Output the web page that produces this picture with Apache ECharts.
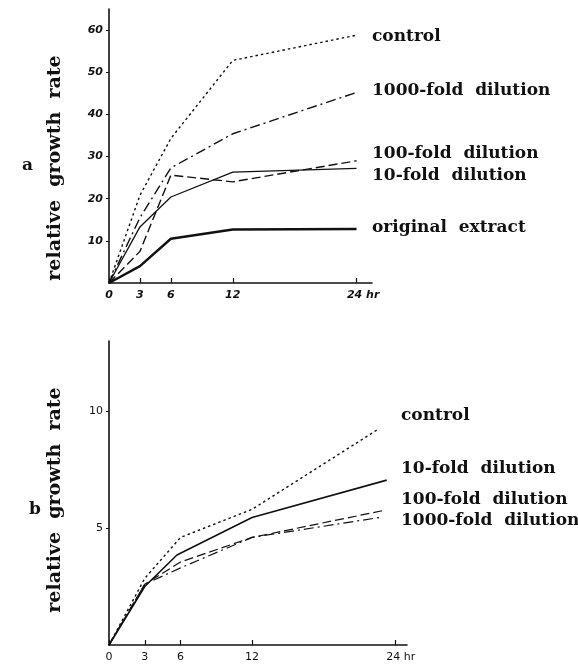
<!DOCTYPE html>
<html>
<head>
<meta charset="utf-8">
<script src="https://cdn.jsdelivr.net/npm/echarts@6/dist/echarts.min.js"></script>
<style>html,body{margin:0;padding:0;background:#fff}#c{width:578px;height:666px}</style>
</head>
<body>
<div id="c"></div>
<script>
// ---- Panel a data ----
const aTimes = [0, 3, 6, 12, 24];
const aControl = [0, 20.8, 34.3, 52.8, 58.8];
const a1000 = [0, 15.5, 27.3, 35.4, 45.2];
const a100 = [0, 7.5, 25.6, 24.0, 29.0];
const a10 = [0, 13.3, 20.4, 26.3, 27.2];
const aOriginal = [0, 4.0, 10.5, 12.7, 12.8];
const aNames = ['control', '1000-fold  dilution', '100-fold  dilution', '10-fold  dilution', 'original  extract'];
const aYTicks = [10, 20, 30, 40, 50, 60];

// ---- Panel b data ----
const bControlT = [0, 3, 6, 12, 22.5];
const bControl = [0, 2.85, 4.6, 5.8, 9.2];
const b10T = [0, 3, 5.7, 12, 23.3];
const b10 = [0, 2.5, 3.85, 5.45, 7.05];
const b100T = [0, 3, 6, 12, 23];
const b100 = [0, 2.6, 3.55, 4.6, 5.75];
const b1000T = [0, 3, 6, 12, 22.9];
const b1000 = [0, 2.6, 3.3, 4.6, 5.47];
const bNames = ['control', '10-fold  dilution', '100-fold  dilution', '1000-fold  dilution'];
const bYTicks = [5, 10];

const xTicks = [0, 3, 6, 12, 24];
const yName = 'relative  growth  rate';

const pair = (t, v) => t.map((x, i) => [x, v[i]]);

const chart = echarts.init(document.getElementById('c'), null, {renderer: 'canvas'});
const serif = 'DejaVu Serif';
const labFont = {fontFamily: serif, fontWeight: 'bold', fontSize: 17, fill: '#111'};
const nameFont = {fontFamily: serif, fontWeight: 'bold', fontSize: 19, fill: '#111'};

function xAxisCfg(gi, max, style) {
  return {
    type: 'value', gridIndex: gi, min: 0, max: max,
    axisLine: {show: true, lineStyle: {color: '#111', width: 1.6}},
    axisTick: {show: true, inside: true, length: 5, customValues: xTicks, lineStyle: {color: '#111', width: 1.2}},
    splitLine: {show: false},
    axisLabel: Object.assign({
      customValues: xTicks, margin: 7, color: '#111',
      formatter: v => v === 24 ? '{h|hr}24 hr' : String(v),
      rich: {h: {color: 'rgba(0,0,0,0)', fontSize: style.fontSize, fontWeight: style.fontWeight, fontStyle: style.fontStyle, fontFamily: style.fontFamily}}
    }, style)
  };
}
function yAxisCfg(gi, max, ticks, style) {
  return {
    type: 'value', gridIndex: gi, min: 0, max: max,
    axisLine: {show: true, lineStyle: {color: '#111', width: 1.6}},
    axisTick: {show: true, inside: false, length: 3, customValues: ticks, lineStyle: {color: '#111'}},
    splitLine: {show: false},
    axisLabel: Object.assign({customValues: ticks, margin: 6, color: '#111'}, style)
  };
}
const aStyle = {fontFamily: 'DejaVu Sans', fontWeight: 'bold', fontStyle: 'italic', fontSize: 11};
const bStyle = {fontFamily: 'DejaVu Sans', fontWeight: 'normal', fontStyle: 'normal', fontSize: 11};

function line(name, data, xi, yi, type, width) {
  return {
    name: name, type: 'line', xAxisIndex: xi, yAxisIndex: yi, data: data,
    showSymbol: false, symbol: 'none', animation: false,
    lineStyle: {color: '#111', width: width, type: type, cap: 'butt'}
  };
}
const dotted = [2.5, 3];
const dashed = [9, 4];
const dashDot = [10, 4, 2, 4];

function vText(text, x, y) {
  return {type: 'text', x: x, y: y, rotation: Math.PI / 2,
    style: Object.assign({text: text, align: 'center', verticalAlign: 'middle'}, nameFont)};
}

chart.setOption({
  backgroundColor: '#fff',
  animation: false,
  grid: [
    {left: 109, top: 9, width: 263, height: 274},
    {left: 109, top: 341, width: 298, height: 304}
  ],
  xAxis: [xAxisCfg(0, 25.5, aStyle), xAxisCfg(1, 25, bStyle)],
  yAxis: [yAxisCfg(0, 65, aYTicks, aStyle), yAxisCfg(1, 13, bYTicks, bStyle)],
  series: [
    line(aNames[0], pair(aTimes, aControl), 0, 0, dotted, 1.4),
    line(aNames[1], pair(aTimes, a1000), 0, 0, dashDot, 1.4),
    line(aNames[2], pair(aTimes, a100), 0, 0, dashed, 1.4),
    line(aNames[3], pair(aTimes, a10), 0, 0, 'solid', 1.3),
    line(aNames[4], pair(aTimes, aOriginal), 0, 0, 'solid', 2.4),
    line(bNames[0], pair(bControlT, bControl), 1, 1, dotted, 1.4),
    line(bNames[1], pair(b10T, b10), 1, 1, 'solid', 1.6),
    line(bNames[2], pair(b100T, b100), 1, 1, dashed, 1.2),
    line(bNames[3], pair(b1000T, b1000), 1, 1, dashDot, 1.2)
  ],
  graphic: [
    vText(yName, 55, 168),
    vText(yName, 55, 500),
    {type: 'text', left: 22, top: 157, style: Object.assign({text: 'a'}, labFont)},
    {type: 'text', left: 29, top: 501, style: Object.assign({text: 'b'}, labFont)},
    {type: 'text', left: 372, top: 28, style: Object.assign({text: aNames[0]}, labFont)},
    {type: 'text', left: 372, top: 82, style: Object.assign({text: aNames[1]}, labFont)},
    {type: 'text', left: 372, top: 145, style: Object.assign({text: aNames[2]}, labFont)},
    {type: 'text', left: 372, top: 167, style: Object.assign({text: aNames[3]}, labFont)},
    {type: 'text', left: 372, top: 219, style: Object.assign({text: aNames[4]}, labFont)},
    {type: 'text', left: 401, top: 407, style: Object.assign({text: bNames[0]}, labFont)},
    {type: 'text', left: 401, top: 460, style: Object.assign({text: bNames[1]}, labFont)},
    {type: 'text', left: 401, top: 491, style: Object.assign({text: bNames[2]}, labFont)},
    {type: 'text', left: 401, top: 512, style: Object.assign({text: bNames[3]}, labFont)}
  ]
});
</script>
</body>
</html>
